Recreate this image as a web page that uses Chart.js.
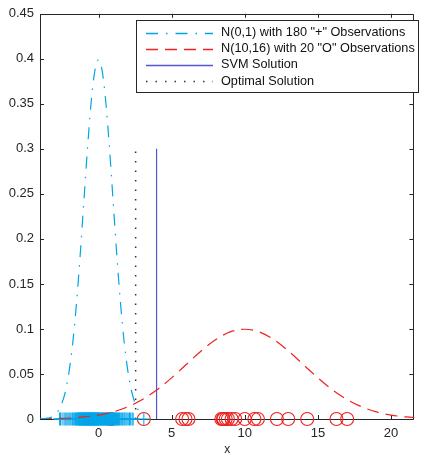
<!DOCTYPE html>
<html lang="en">
<head>
  <meta charset="UTF-8">
  <title>SVM vs optimal solution</title>
  <script src="https://cdn.jsdelivr.net/npm/chart.js@4.4.2/dist/chart.umd.min.js"></script>
  <style>
    body { margin: 0; padding: 0; background: #fff; }
    #wrap { width: 422px; height: 455px; }
  </style>
</head>
<body>
  <div id="wrap"><canvas id="myChart" width="422" height="455"></canvas></div>

  <script>
    // N(0,1) density curve
    const normX = [-4, -3.75, -3.5, -3.25, -3, -2.75, -2.5, -2.25, -2, -1.75, -1.5, -1.25, -1, -0.75, -0.5, -0.25,
                   0, 0.25, 0.5, 0.75, 1, 1.25, 1.5, 1.75, 2, 2.25, 2.5, 2.75, 3];
    const normY = [0.0001, 0.0004, 0.0009, 0.002, 0.0044, 0.0091, 0.0175, 0.0317, 0.054, 0.0863, 0.1295, 0.1826, 0.242, 0.3011, 0.3521, 0.3867,
                   0.3989, 0.3867, 0.3521, 0.3011, 0.242, 0.1826, 0.1295, 0.0863, 0.054, 0.0317, 0.0175, 0.0091, 0.0044];

    // N(10,16) density curve
    const wideX = [-4, -3, -2, -1, 0, 1, 2, 3, 4, 5, 6, 7, 8, 9, 10, 11, 12, 13, 14, 15, 16, 17, 18, 19, 20, 21, 22];
    const wideY = [0.0002, 0.0005, 0.0011, 0.0023, 0.0044, 0.0079, 0.0135, 0.0216, 0.0324, 0.0457, 0.0605, 0.0753, 0.088, 0.0967,
                   0.0997, 0.0967, 0.088, 0.0753, 0.0605, 0.0457, 0.0324, 0.0216, 0.0135, 0.0079, 0.0044, 0.0023, 0.0011];

    // "+" observations on the axis
    const plusObs = [-2.66, -2.6, -2.49, -2.36, -2.28, -2.21, -2.1, -2.02, -1.95, -1.88, -1.8, -1.76, -1.69, -1.63, -1.57, -1.52,
      -1.48, -1.45, -1.41, -1.39, -1.35, -1.33, -1.3, -1.27, -1.25, -1.22, -1.2, -1.17, -1.15, -1.13, -1.1, -1.08, -1.06, -1.04, -1.02, -1.0,
      -0.98, -0.96, -0.94, -0.92, -0.9, -0.88, -0.86, -0.84, -0.82, -0.8, -0.78, -0.76, -0.74, -0.72, -0.7, -0.68, -0.66, -0.64, -0.62, -0.6,
      -0.58, -0.56, -0.54, -0.52, -0.5, -0.48, -0.46, -0.44, -0.42, -0.4, -0.38, -0.36, -0.34, -0.32, -0.3, -0.28, -0.26, -0.24, -0.22, -0.2,
      -0.18, -0.16, -0.14, -0.12, -0.1, -0.08, -0.06, -0.04, -0.02, 0,
      0.02, 0.05, 0.08, 0.1, 0.13, 0.16, 0.19, 0.22, 0.25, 0.27, 0.3, 0.33, 0.36, 0.39, 0.42, 0.45, 0.48, 0.51, 0.54, 0.57,
      0.6, 0.63, 0.66, 0.69, 0.72, 0.75, 0.78, 0.81, 0.84, 0.87, 0.9, 0.93, 0.96, 0.99,
      1.02, 1.06, 1.1, 1.13, 1.17, 1.21, 1.25, 1.3, 1.34, 1.38, 1.43, 1.48,
      1.55, 1.61, 1.66, 1.74, 1.8, 1.88, 1.95, 2.03, 2.12, 2.2, 2.3, 2.37, 3.1];

    // "O" observations on the axis
    const circleObs = [0.85, 3.1, 5.72, 5.95, 6.15, 8.4, 8.5, 8.55, 8.7, 8.85, 9.1, 9.35, 10.0, 10.66, 10.9, 12.2, 12.97, 14.27, 16.27, 17.0];

    // threshold lines
    const svmX = 3.97;
    const optimalX = 2.54;
    const lineTop = 0.3;

    const xTicks = [0, 5, 10, 15, 20];
    const yTicks = [0, 0.05, 0.1, 0.15, 0.2, 0.25, 0.3, 0.35, 0.4, 0.45];

    const legendLabels = ['N(0,1) with 180 "+" Observations', 'N(10,16) with 20 "O" Observations', 'SVM Solution', 'Optimal Solution'];

    const blue = '#00a5e8';
    const red = '#ee2222';
    const svmColor = '#5555cc';
    const dotColor = '#333333';
    const axisColor = '#262626';
    const fontFam = '"Liberation Sans", Arial, sans-serif';

    const blueDash = [12, 8, 1.5, 8];
    const redDash = [12, 7];
    const dotDash = [1.5, 8];

    // MATLAB style box with inward ticks on all four sides
    const boxPlugin = {
      id: 'boxPlugin',
      beforeDatasetsDraw(chart) {
        const { ctx, chartArea: a, scales } = chart;
        ctx.save();
        ctx.strokeStyle = axisColor;
        ctx.lineWidth = 1;
        ctx.beginPath();
        ctx.rect(Math.round(a.left) + 0.5, Math.round(a.top) + 0.5, Math.round(a.right - a.left) - 1, Math.round(a.bottom - a.top));
        ctx.stroke();
        const tl = 4;
        ctx.beginPath();
        xTicks.forEach(v => {
          const px = Math.round(scales.x.getPixelForValue(v)) + 0.5;
          ctx.moveTo(px, a.bottom); ctx.lineTo(px, a.bottom - tl);
          ctx.moveTo(px, a.top); ctx.lineTo(px, a.top + tl);
        });
        yTicks.forEach(v => {
          const py = Math.round(scales.y.getPixelForValue(v)) + 0.5;
          ctx.moveTo(a.left, py); ctx.lineTo(a.left + tl, py);
          ctx.moveTo(a.right - 1, py); ctx.lineTo(a.right - 1 - tl, py);
        });
        ctx.stroke();
        ctx.restore();
      }
    };

    // legend box inside the top right corner
    const legendPlugin = {
      id: 'boxLegend',
      afterDatasetsDraw(chart) {
        const { ctx } = chart;
        const styles = [
          { color: blue, dash: blueDash },
          { color: red, dash: redDash },
          { color: svmColor, dash: [] },
          { color: dotColor, dash: dotDash }
        ];
        const bx = 136.5, by = 20.5, bw = 282, bh = 72;
        ctx.save();
        ctx.fillStyle = '#fff';
        ctx.fillRect(bx, by, bw, bh);
        ctx.strokeStyle = axisColor;
        ctx.lineWidth = 1;
        ctx.strokeRect(bx, by, bw, bh);
        ctx.font = '12.7px ' + fontFam;
        ctx.textBaseline = 'middle';
        legendLabels.forEach((t, i) => {
          const y = 32.7 + i * 16.1;
          ctx.save();
          ctx.lineWidth = 1.3;
          ctx.setLineDash(styles[i].dash);
          ctx.strokeStyle = styles[i].color;
          ctx.beginPath();
          ctx.moveTo(146, Math.round(y) + 0.5);
          ctx.lineTo(213, Math.round(y) + 0.5);
          ctx.stroke();
          ctx.restore();
          ctx.fillStyle = '#111';
          ctx.fillText(t, 221, y);
        });
        ctx.restore();
      }
    };

    const ctx = document.getElementById('myChart').getContext('2d');
    new Chart(ctx, {
      type: 'scatter',
      data: {
        datasets: [
          {
            label: legendLabels[0],
            data: normX.map((x, i) => ({ x: x, y: normY[i] })),
            showLine: true,
            borderColor: blue,
            borderWidth: 1.2,
            borderDash: blueDash,
            pointRadius: 0,
            cubicInterpolationMode: 'monotone'
          },
          {
            label: legendLabels[1],
            data: wideX.map((x, i) => ({ x: x, y: wideY[i] })),
            showLine: true,
            borderColor: red,
            borderWidth: 1.2,
            borderDash: redDash,
            pointRadius: 0,
            cubicInterpolationMode: 'monotone'
          },
          {
            label: 'plus',
            data: plusObs.map(x => ({ x: x, y: 0 })),
            pointStyle: 'cross',
            pointRadius: 6.5,
            borderColor: blue,
            borderWidth: 1,
            clip: false
          },
          {
            label: 'circles',
            data: circleObs.map(x => ({ x: x, y: 0 })),
            pointStyle: 'circle',
            pointRadius: 6.5,
            borderColor: red,
            backgroundColor: 'rgba(0,0,0,0)',
            borderWidth: 1.1,
            clip: false
          },
          {
            label: legendLabels[2],
            data: [{ x: svmX, y: 0 }, { x: svmX, y: lineTop }],
            showLine: true,
            borderColor: svmColor,
            borderWidth: 1.2,
            pointRadius: 0
          },
          {
            label: legendLabels[3],
            data: [{ x: optimalX, y: 0 }, { x: optimalX, y: lineTop }],
            showLine: true,
            borderColor: dotColor,
            borderWidth: 1.5,
            borderDash: dotDash,
            pointRadius: 0
          }
        ]
      },
      options: {
        responsive: false,
        animation: false,
        layout: { padding: { top: 13, right: 0, left: 0, bottom: 0 } },
        plugins: {
          legend: { display: false },
          tooltip: { enabled: false }
        },
        scales: {
          x: {
            type: 'linear',
            min: -4,
            max: 21.6,
            border: { display: false },
            grid: { display: false, drawTicks: false },
            afterBuildTicks: s => { s.ticks = xTicks.map(v => ({ value: v })); },
            afterFit: s => { s.height = 36; },
            ticks: {
              color: axisColor,
              padding: 7,
              font: { family: fontFam, size: 13 },
              callback: v => String(v)
            },
            title: {
              display: true,
              text: 'x',
              color: axisColor,
              font: { family: fontFam, size: 12, lineHeight: 1 },
              padding: { top: 0, bottom: -1 }
            }
          },
          y: {
            min: 0,
            max: 0.45,
            border: { display: false },
            grid: { display: false, drawTicks: false },
            afterBuildTicks: s => { s.ticks = yTicks.map(v => ({ value: v })); },
            afterFit: s => { s.width = 40; },
            ticks: {
              color: axisColor,
              padding: 6,
              font: { family: fontFam, size: 13 },
              callback: v => String(Math.round(v * 100) / 100)
            }
          }
        }
      },
      plugins: [boxPlugin, legendPlugin]
    });
  </script>
</body>
</html>
